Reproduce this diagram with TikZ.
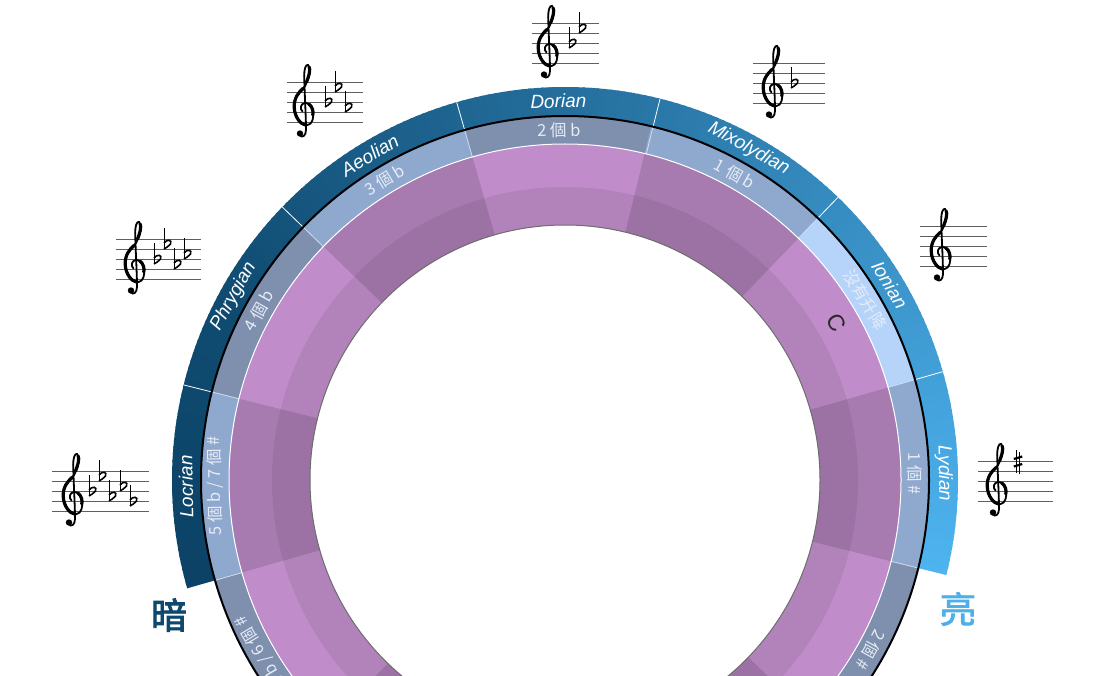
\documentclass[tikz,border=0pt]{standalone}
\usepackage{fontspec}
\newfontfamily\lsans{Liberation Sans}
\newfontfamily\cjk{Noto Sans CJK TC}
\newfontfamily\cjkb[FakeBold=2.5]{Noto Sans CJK TC}
\definecolor{plight}{RGB}{192,141,202}
\definecolor{pdark}{RGB}{167,123,176}
\definecolor{glight}{RGB}{143,168,206}
\definecolor{gdark}{RGB}{127,143,174}
\definecolor{ghigh}{RGB}{182,212,250}
\definecolor{gline}{RGB}{205,222,242}
\definecolor{glabel}{RGB}{230,236,246}
\definecolor{darknavy}{RGB}{14,72,110}
\definecolor{lightblue}{RGB}{77,176,234}
\definecolor{staffgray}{RGB}{95,95,95}
\definecolor{innerline}{RGB}{110,110,110}
\tikzset{
  modelabel/.style={text=white, font=\lsans\itshape\fontsize{19}{19}\selectfont, inner sep=0pt},
  keylabel/.style={text=glabel, font=\cjk\fontsize{16.5}{17}\selectfont, inner sep=0pt},
  staffline/.style={draw=staffgray, line width=0.9pt},
  clefthin/.style={draw=black, line width=1.8pt, line cap=round},
  clefthick/.style={draw=black, line width=3.2pt, line cap=round},
  bigchar/.style={font=\cjkb\fontsize{36}{36}\selectfont, inner sep=0pt},
}
\newcommand\annsec[5]{%
  \fill[#1] (#2:#4) arc[start angle=#2, end angle=#3, radius=#4] -- (#3:#5) arc[start angle=#3, end angle=#2, radius=#5] -- cycle;}
\newcommand\trebleclef{%
  \draw[clefthin] (0.12,4.6) .. controls (0.1,5.3) and (0.3,5.8) .. (0.5,5.7)
     .. controls (0.8,5.5) and (0.7,4.5) .. (0.2,3.6)
     .. controls (-0.4,3.0) and (-0.9,2.4) .. (-0.88,1.5)
     .. controls (-0.85,0.35) and (0.0,-0.35) .. (0.45,-0.3)
     .. controls (0.95,-0.25) and (1.1,0.5) .. (1.0,1.0)
     .. controls (0.9,1.6) and (0.45,1.95) .. (0.2,1.9)
     .. controls (-0.25,1.85) and (-0.35,1.3) .. (-0.05,1.05);
  \draw[clefthick] (0.0,3.35) .. controls (-0.45,2.95) and (-0.9,2.4) .. (-0.88,1.5)
     .. controls (-0.85,0.45) and (-0.2,-0.25) .. (0.25,-0.3);
  \draw[clefthick] (0.62,5.5) .. controls (0.75,5.2) and (0.6,4.6) .. (0.35,4.0);
  \draw[clefthick] (0.98,0.7) .. controls (1.05,1.1) and (0.95,1.5) .. (0.6,1.8);
  \draw[clefthin] (0.12,4.6) .. controls (0.15,3) and (0.3,0.5) .. (0.3,-0.8)
     .. controls (0.3,-1.4) and (-0.1,-1.6) .. (-0.3,-1.35);
  \fill (-0.3,-1.15) circle[radius=0.32];
}
\newcommand\stave[4]{%
  \foreach \i in {0,...,4} \draw[staffline] (#1,-#3-10*\i) -- (#2,-#3-10*\i);
  \begin{scope}[shift={(#4,-#3-40)},scale=10] \trebleclef \end{scope}}
\newcommand\flatsign[2]{%
  \begin{scope}[shift={(#1,-#2)},scale=10]
    \draw[line width=0.9pt] (0,1.6) -- (0,-0.5);
    \draw[line width=1.6pt] (0,0.1) .. controls (0.3,0.5) and (0.85,0.45) .. (0.65,0.0) .. controls (0.5,-0.25) and (0.2,-0.35) .. (0,-0.5);
  \end{scope}}
\newcommand\sharpsign[2]{%
  \begin{scope}[shift={(#1,-#2)},scale=10]
    \draw[line width=0.9pt] (-0.17,-1.05) -- (-0.17,1.2) (0.17,-1.2) -- (0.17,1.05);
    \draw[line width=2.2pt] (-0.42,-0.45) -- (0.42,-0.2) (-0.42,0.3) -- (0.42,0.55);
  \end{scope}}
\begin{document}
\begin{tikzpicture}[x=1pt,y=1pt]
\useasboundingbox (0,0) rectangle (1116,-676);
\fill[white] (0,0) rectangle (1116,-676);
\clip (0,0) rectangle (1116,-676);
\begin{scope}[shift={(565,-480)}]
  % purple and grey rings
  \foreach \j in {0,...,11}{
    \pgfmathsetmacro\aa{76+30*\j}
    \pgfmathsetmacro\ab{106.3+30*\j}
    \pgfmathtruncatemacro\pp{mod(\j,2)}
    \ifnum\pp=0 \def\pc{plight}\def\gc{gdark}\else \def\pc{pdark}\def\gc{glight}\fi
    \ifnum\j=10 \def\gc{ghigh}\fi
    \annsec{\pc}{\aa}{\ab}{255}{336}
    \annsec{\gc}{\aa}{\ab}{336}{364}
  }
  \fill[black,opacity=0.07,even odd rule] (0,0) circle[radius=293] (0,0) circle[radius=255];
  % blue ring with gradient
  \foreach \a in {-14,...,195}{
    \pgfmathtruncatemacro\cR{\a<91 ? 78-0.4*(\a+14) : (\a<151 ? 36-0.3333*(\a-91) : 16-0.0889*(\a-151))}
    \pgfmathtruncatemacro\cG{\a<91 ? 180-0.6667*(\a+14) : (\a<151 ? 110-0.5667*(\a-91) : 76-0.2222*(\a-151))}
    \pgfmathtruncatemacro\cB{\a<91 ? 240-0.8*(\a+14) : (\a<151 ? 156-0.7*(\a-91) : 114-0.2667*(\a-151))}
    \pgfmathsetmacro\ae{min(\a+1.4,196)}
    \definecolor{bc}{RGB}{\cR,\cG,\cB}
    \annsec{bc}{\a}{\ae}{364}{393}
  }
  \foreach \a in {16,46,...,346} \draw[gline, line width=0.8pt] (\a:336) -- (\a:364);
  \foreach \a in {16,46,76,106,136,166} \draw[white, line width=0.8pt] (\a:364) -- (\a:393);
  \draw[white, line width=1pt] (0,0) circle[radius=336];
  \draw[black, line width=2pt] (0,0) circle[radius=364];
  \draw[innerline, line width=1pt] (0,0) circle[radius=255];
  % mode names
  \foreach \ang/\txt in {181/Locrian,151/Phrygian,121/Aeolian,91/Dorian,61/Mixolydian,31/Ionian,1/Lydian}
    \node[modelabel, rotate=\ang-90] (m\ang) at (\ang:379) {\txt};
  % key signatures
  \foreach \ang/\txt in {211/{6 個 b / 6 個 \#},181/{5 個 b / 7 個 \#},151/{4 個 b},121/{3 個 b},91/{2 個 b},61/{1 個 b},31/{沒有升降},1/{1 個 \#},-29/{2 個 \#}}
    \node[keylabel, rotate=\ang-90] (k\ang) at (\ang:350) {\txt};
  \node[text={rgb,255:red,40;green,40;blue,40}, font=\lsans\fontsize{23}{23}\selectfont, rotate=-60, inner sep=0pt] (tonic) at (30:314) {C};
\end{scope}
\node[bigchar, text=darknavy] (dark) at (169,-615) {暗};
\node[bigchar, text=lightblue] (bright) at (958,-609) {亮};
% staves
\stave{52}{149}{471}{72}
\flatsign{89}{491}\flatsign{99}{476}\flatsign{109}{496}\flatsign{120}{486}\flatsign{130}{501}
\stave{116}{201}{239}{134}
\flatsign{154}{259}\flatsign{164}{244}\flatsign{174}{264}\flatsign{184}{254}
\stave{287}{363}{82}{303}
\flatsign{325}{102}\flatsign{335}{87}\flatsign{345}{107}
\stave{532}{599}{23}{547}
\flatsign{569}{43}\flatsign{579}{28}
\stave{753}{825}{63}{772}
\flatsign{791}{83}
\stave{920}{987}{226}{940}
\stave{978}{1053}{461}{996}
\sharpsign{1018}{462}
\end{tikzpicture}
\end{document}
